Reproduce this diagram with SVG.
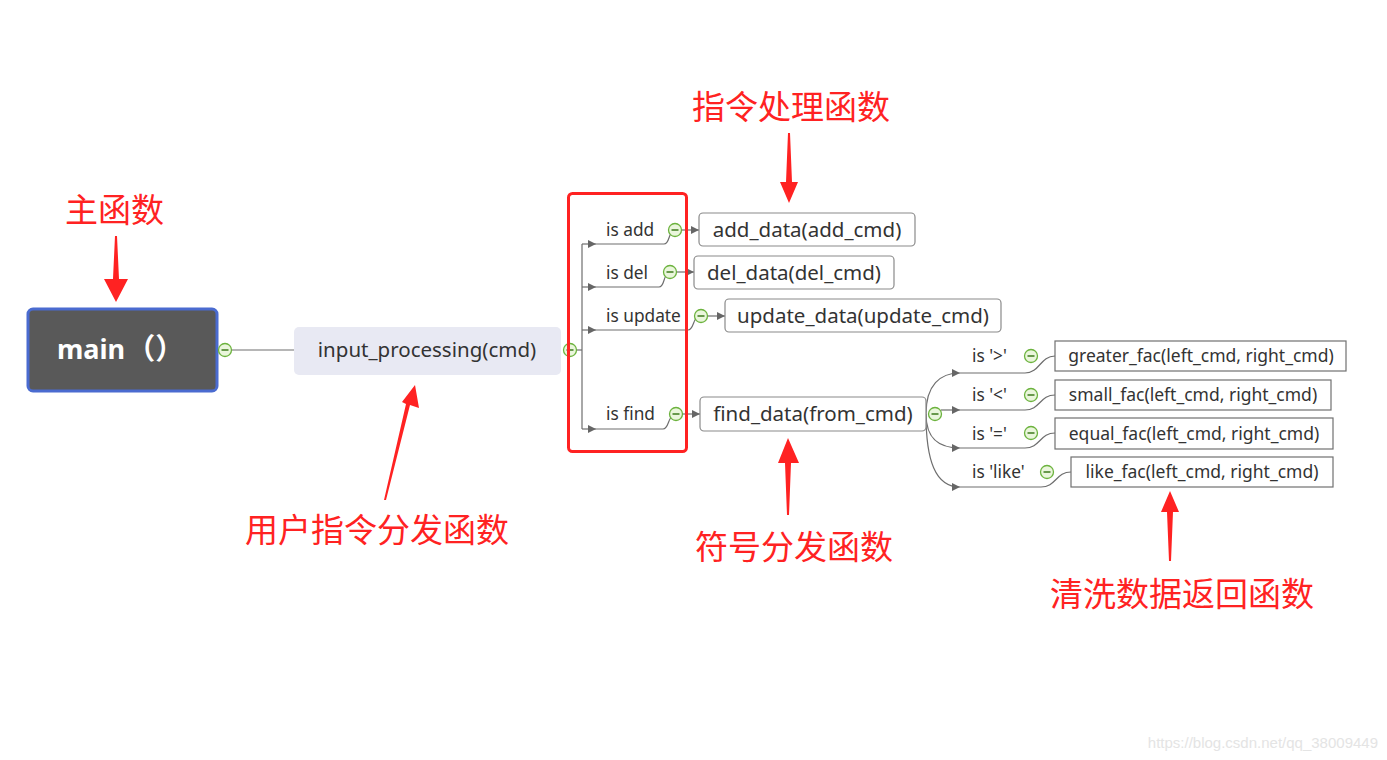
<svg xmlns="http://www.w3.org/2000/svg" width="1387" height="760" viewBox="0 0 1387 760">
<defs>
<marker id="ah" viewBox="0 0 10 10" refX="10" refY="5" markerWidth="8" markerHeight="8" markerUnits="userSpaceOnUse" orient="auto">
<path d="M0,0 L10,5 L0,10 z" fill="#666"/>
</marker>
<g id="col">
<circle r="6.5" fill="#eaf6dc" stroke="#6cb33e" stroke-width="1.3"/>
<line x1="-3.5" y1="0" x2="3.5" y2="0" stroke="#3d7a1c" stroke-width="1.5"/>
</g>
</defs>
<style>
.conn{fill:none;stroke:#6e6e6e;stroke-width:1.2}
.lbl{font-family:"Microsoft YaHei","Noto Sans","Open Sans",sans-serif;font-size:17.3px;fill:#333}
.node{fill:#fff;stroke:#8a8a8a;stroke-width:1.2}
.fac{fill:#fff;stroke:#707070;stroke-width:1.2}
.nt{font-family:"Microsoft YaHei","Noto Sans","Open Sans",sans-serif;font-size:20.5px;fill:#333;text-anchor:middle}
.ft{font-family:"Microsoft YaHei","Noto Sans","Open Sans",sans-serif;font-size:17.5px;fill:#333;text-anchor:middle}
.ann{font-family:"Noto Sans CJK SC",sans-serif;font-size:33px;fill:#ff2222}
.arr{fill:#ff2222}
</style>
<rect width="1387" height="760" fill="#fff"/>

<g id="connectors">
<line class="conn" x1="232" y1="350" x2="294" y2="350"/>
<line class="conn" x1="576" y1="350" x2="582" y2="350"/>
<line class="conn" x1="582" y1="244" x2="582" y2="429"/>
<path class="conn" d="M582,244 H596" marker-end="url(#ah)"/>
<path class="conn" d="M596,244 H664 C670,244 668,232 674,231"/>
<path class="conn" d="M582,287 H596" marker-end="url(#ah)"/>
<path class="conn" d="M596,287 H659 C665,287 663,274 669,273"/>
<path class="conn" d="M582,330 H596" marker-end="url(#ah)"/>
<path class="conn" d="M596,330 H688 C694,330 693,317 699,316"/>
<path class="conn" d="M582,429 H596" marker-end="url(#ah)"/>
<path class="conn" d="M596,429 H663 C669,429 668,416 674,415"/>
<path class="conn" d="M681,230 H699" marker-end="url(#ah)"/>
<path class="conn" d="M676,272 C684,272 686,272 694,272" marker-end="url(#ah)"/>
<path class="conn" d="M707,316 H725" marker-end="url(#ah)"/>
<path class="conn" d="M682,414 H700" marker-end="url(#ah)"/>
<path class="conn" d="M926,414 C926,385 940,373 960,373" marker-end="url(#ah)"/>
<path class="conn" d="M941,410 H960" marker-end="url(#ah)"/>
<path class="conn" d="M926,414 C926,440 940,448 960,448" marker-end="url(#ah)"/>
<path class="conn" d="M926,414 C926,460 935,487 960,487" marker-end="url(#ah)"/>
<path class="conn" d="M960,373 H1025 C1040,373 1040,356 1055,356"/>
<path class="conn" d="M960,410 H1025 C1040,410 1040,395 1055,395"/>
<path class="conn" d="M960,448 H1025 C1040,448 1040,433 1055,433"/>
<path class="conn" d="M960,487 H1041 C1056,487 1056,472 1071,472"/>
</g>

<g id="n-main">
<rect x="28" y="309" width="189" height="82" rx="5" fill="#595959" stroke="#4a6bd0" stroke-width="3"/>
<text x="57" y="359" font-family="Microsoft YaHei,'Noto Sans','Noto Sans CJK SC',sans-serif" font-size="27" font-weight="bold" fill="#fff">main<tspan font-family="'Noto Sans CJK SC',sans-serif" font-size="29" dx="1">（）</tspan></text>
<use href="#col" x="225" y="350"/>
</g>

<g id="n-input">
<rect x="294" y="327" width="267" height="48" rx="5" fill="#e8e9f3"/>
<text class="nt" x="427" y="357">input_processing(cmd)</text>
<use href="#col" x="570" y="350"/>
</g>

<g id="labels">
<text class="lbl" x="606" y="236">is add</text>
<use href="#col" x="675" y="230"/>
<text class="lbl" x="606" y="279">is del</text>
<use href="#col" x="670" y="272"/>
<text class="lbl" x="606" y="322">is update</text>
<use href="#col" x="701" y="316"/>
<text class="lbl" x="606" y="420">is find</text>
<use href="#col" x="676" y="414"/>
<text class="lbl" x="972" y="362">is '&gt;'</text>
<use href="#col" x="1031" y="356"/>
<text class="lbl" x="972" y="401">is '&lt;'</text>
<use href="#col" x="1031" y="395"/>
<text class="lbl" x="972" y="440">is '='</text>
<use href="#col" x="1031" y="433"/>
<text class="lbl" x="972" y="478">is 'like'</text>
<use href="#col" x="1047" y="472"/>
</g>

<g id="n-add">
<rect class="node" x="699" y="213" width="216" height="33" rx="4"/>
<text class="nt" x="807" y="237">add_data(add_cmd)</text>
</g>
<g id="n-del">
<rect class="node" x="694" y="256" width="200" height="33" rx="4"/>
<text class="nt" x="794" y="280">del_data(del_cmd)</text>
</g>
<g id="n-update">
<rect class="node" x="725" y="299" width="276" height="33" rx="4"/>
<text class="nt" x="863" y="323">update_data(update_cmd)</text>
</g>
<g id="n-find">
<rect class="node" x="700" y="397" width="226" height="34" rx="4"/>
<text class="nt" x="813" y="421">find_data(from_cmd)</text>
<use href="#col" x="935" y="414"/>
</g>

<g id="n-greater">
<rect class="fac" x="1055" y="341" width="291" height="30"/>
<text class="ft" x="1201" y="362">greater_fac(left_cmd, right_cmd)</text>
</g>
<g id="n-small">
<rect class="fac" x="1055" y="380" width="276" height="30"/>
<text class="ft" x="1193" y="401">small_fac(left_cmd, right_cmd)</text>
</g>
<g id="n-equal">
<rect class="fac" x="1055" y="418" width="278" height="31"/>
<text class="ft" x="1194" y="440">equal_fac(left_cmd, right_cmd)</text>
</g>
<g id="n-like">
<rect class="fac" x="1071" y="457" width="262" height="30"/>
<text class="ft" x="1202" y="478">like_fac(left_cmd, right_cmd)</text>
</g>

<g id="annotations">
<rect x="568.5" y="193.5" width="118" height="258" rx="4" fill="none" stroke="#ff2222" stroke-width="3"/>
<text class="ann" x="65" y="222">主函数</text>
<polygon class="arr" points="115,236 117,236 119,279 128,279 116,302 104,279 113,279"/>
<text class="ann" x="692" y="119">指令处理函数</text>
<polygon class="arr" points="788,133 790,133 792,182 798,182 789,203 780,182 786,182"/>
<text class="ann" x="245" y="542">用户指令分发函数</text>
<polygon class="arr" points="384,500 386,500 410,405 419,408 415,385 402,402 406,404"/>
<text class="ann" x="695" y="559">符号分发函数</text>
<polygon class="arr" points="787,515 789,515 791,463 799,463 788,438 778,463 785,463"/>
<text class="ann" x="1050" y="606">清洗数据返回函数</text>
<polygon class="arr" points="1169,561 1171,561 1173,512 1179,512 1170,491 1161,512 1167,512"/>
</g>

<text x="1378" y="748" text-anchor="end" font-family="Liberation Sans,Arial,sans-serif" font-size="15" fill="#e4e4e4">https://blog.csdn.net/qq_38009449</text>
</svg>
